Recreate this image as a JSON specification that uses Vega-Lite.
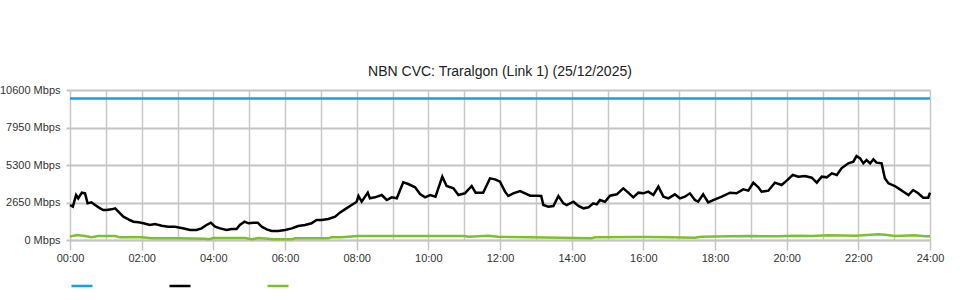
{
  "$schema": "https://vega.github.io/schema/vega-lite/v6.json",
  "width": 860,
  "height": 150,
  "autosize": {"type": "none"},
  "padding": {"left": 70, "top": 90, "right": 30, "bottom": 60},
  "background": "#ffffff",
  "title": {"text": "NBN CVC: Traralgon (Link 1) (25/12/2025)", "font": "Liberation Sans", "fontSize": 14, "fontWeight": "normal", "color": "#222222", "anchor": "middle", "frame": "group", "offset": 5},
  "config": {"view": {"stroke": null}},
  "datasets": {
    "cap": [
      {"t": 0, "s": "Capacity", "v": 10000},
      {"t": 24, "s": "Capacity", "v": 10000}
    ],
    "down": [
      {"t": 0.00, "s": "Download", "v": 2473}, {"t": 0.08, "s": "Download", "v": 2355}, {"t": 0.17, "s": "Download", "v": 3180}, {"t": 0.23, "s": "Download", "v": 2945},
      {"t": 0.33, "s": "Download", "v": 3345}, {"t": 0.42, "s": "Download", "v": 3298}, {"t": 0.49, "s": "Download", "v": 2590}, {"t": 0.60, "s": "Download", "v": 2660},
      {"t": 0.70, "s": "Download", "v": 2473}, {"t": 0.84, "s": "Download", "v": 2238}, {"t": 0.93, "s": "Download", "v": 2120}, {"t": 1.02, "s": "Download", "v": 2120},
      {"t": 1.16, "s": "Download", "v": 2167}, {"t": 1.26, "s": "Download", "v": 2238}, {"t": 1.35, "s": "Download", "v": 2002}, {"t": 1.49, "s": "Download", "v": 1650},
      {"t": 1.63, "s": "Download", "v": 1460}, {"t": 1.77, "s": "Download", "v": 1295}, {"t": 1.91, "s": "Download", "v": 1248}, {"t": 2.05, "s": "Download", "v": 1178},
      {"t": 2.23, "s": "Download", "v": 1060}, {"t": 2.37, "s": "Download", "v": 1130}, {"t": 2.56, "s": "Download", "v": 1013}, {"t": 2.74, "s": "Download", "v": 942},
      {"t": 2.93, "s": "Download", "v": 942}, {"t": 3.07, "s": "Download", "v": 870}, {"t": 3.21, "s": "Download", "v": 800}, {"t": 3.35, "s": "Download", "v": 706},
      {"t": 3.53, "s": "Download", "v": 706}, {"t": 3.67, "s": "Download", "v": 824}, {"t": 3.81, "s": "Download", "v": 1060}, {"t": 3.93, "s": "Download", "v": 1225},
      {"t": 4.05, "s": "Download", "v": 942}, {"t": 4.19, "s": "Download", "v": 824}, {"t": 4.37, "s": "Download", "v": 706}, {"t": 4.51, "s": "Download", "v": 777},
      {"t": 4.65, "s": "Download", "v": 777}, {"t": 4.74, "s": "Download", "v": 1060}, {"t": 4.87, "s": "Download", "v": 1295}, {"t": 4.98, "s": "Download", "v": 1178},
      {"t": 5.12, "s": "Download", "v": 1225}, {"t": 5.24, "s": "Download", "v": 1225}, {"t": 5.35, "s": "Download", "v": 942}, {"t": 5.49, "s": "Download", "v": 753},
      {"t": 5.63, "s": "Download", "v": 636}, {"t": 5.81, "s": "Download", "v": 636}, {"t": 6.00, "s": "Download", "v": 706}, {"t": 6.19, "s": "Download", "v": 824},
      {"t": 6.37, "s": "Download", "v": 989}, {"t": 6.56, "s": "Download", "v": 1060}, {"t": 6.74, "s": "Download", "v": 1178}, {"t": 6.88, "s": "Download", "v": 1413},
      {"t": 7.02, "s": "Download", "v": 1413}, {"t": 7.21, "s": "Download", "v": 1484}, {"t": 7.40, "s": "Download", "v": 1650}, {"t": 7.53, "s": "Download", "v": 1932},
      {"t": 7.67, "s": "Download", "v": 2167}, {"t": 7.86, "s": "Download", "v": 2473}, {"t": 8.00, "s": "Download", "v": 2708}, {"t": 8.05, "s": "Download", "v": 3110},
      {"t": 8.14, "s": "Download", "v": 2708}, {"t": 8.31, "s": "Download", "v": 3345}, {"t": 8.37, "s": "Download", "v": 2945}, {"t": 8.51, "s": "Download", "v": 3015},
      {"t": 8.70, "s": "Download", "v": 3180}, {"t": 8.84, "s": "Download", "v": 2827}, {"t": 8.98, "s": "Download", "v": 3015}, {"t": 9.12, "s": "Download", "v": 2945},
      {"t": 9.30, "s": "Download", "v": 4076}, {"t": 9.44, "s": "Download", "v": 3957}, {"t": 9.63, "s": "Download", "v": 3722}, {"t": 9.77, "s": "Download", "v": 3250},
      {"t": 9.91, "s": "Download", "v": 3015}, {"t": 10.05, "s": "Download", "v": 3180}, {"t": 10.20, "s": "Download", "v": 3062}, {"t": 10.39, "s": "Download", "v": 4475},
      {"t": 10.51, "s": "Download", "v": 3816}, {"t": 10.70, "s": "Download", "v": 3651}, {"t": 10.84, "s": "Download", "v": 3180}, {"t": 11.02, "s": "Download", "v": 3298},
      {"t": 11.21, "s": "Download", "v": 3816}, {"t": 11.32, "s": "Download", "v": 3345}, {"t": 11.53, "s": "Download", "v": 3345}, {"t": 11.72, "s": "Download", "v": 4358},
      {"t": 11.86, "s": "Download", "v": 4287}, {"t": 12.00, "s": "Download", "v": 4122}, {"t": 12.14, "s": "Download", "v": 3415}, {"t": 12.23, "s": "Download", "v": 3110},
      {"t": 12.37, "s": "Download", "v": 3298}, {"t": 12.56, "s": "Download", "v": 3463}, {"t": 12.70, "s": "Download", "v": 3298}, {"t": 12.84, "s": "Download", "v": 3133},
      {"t": 13.02, "s": "Download", "v": 3133}, {"t": 13.15, "s": "Download", "v": 3110}, {"t": 13.21, "s": "Download", "v": 2473}, {"t": 13.35, "s": "Download", "v": 2355},
      {"t": 13.49, "s": "Download", "v": 2402}, {"t": 13.63, "s": "Download", "v": 3110}, {"t": 13.77, "s": "Download", "v": 2590}, {"t": 13.86, "s": "Download", "v": 2473},
      {"t": 14.05, "s": "Download", "v": 2708}, {"t": 14.19, "s": "Download", "v": 2402}, {"t": 14.33, "s": "Download", "v": 2238}, {"t": 14.47, "s": "Download", "v": 2308},
      {"t": 14.60, "s": "Download", "v": 2590}, {"t": 14.70, "s": "Download", "v": 2520}, {"t": 14.79, "s": "Download", "v": 2827}, {"t": 14.93, "s": "Download", "v": 2708},
      {"t": 15.07, "s": "Download", "v": 3133}, {"t": 15.26, "s": "Download", "v": 3227}, {"t": 15.44, "s": "Download", "v": 3651}, {"t": 15.58, "s": "Download", "v": 3345},
      {"t": 15.72, "s": "Download", "v": 3015}, {"t": 15.86, "s": "Download", "v": 3345}, {"t": 16.00, "s": "Download", "v": 3298}, {"t": 16.14, "s": "Download", "v": 3415},
      {"t": 16.28, "s": "Download", "v": 3180}, {"t": 16.42, "s": "Download", "v": 3769}, {"t": 16.56, "s": "Download", "v": 3062}, {"t": 16.70, "s": "Download", "v": 2945},
      {"t": 16.88, "s": "Download", "v": 3227}, {"t": 17.02, "s": "Download", "v": 2945}, {"t": 17.16, "s": "Download", "v": 3062}, {"t": 17.30, "s": "Download", "v": 3298},
      {"t": 17.44, "s": "Download", "v": 2827}, {"t": 17.53, "s": "Download", "v": 2708}, {"t": 17.67, "s": "Download", "v": 3227}, {"t": 17.81, "s": "Download", "v": 2660},
      {"t": 18.00, "s": "Download", "v": 2874}, {"t": 18.19, "s": "Download", "v": 3062}, {"t": 18.42, "s": "Download", "v": 3345}, {"t": 18.60, "s": "Download", "v": 3298},
      {"t": 18.79, "s": "Download", "v": 3580}, {"t": 18.93, "s": "Download", "v": 3486}, {"t": 19.07, "s": "Download", "v": 4052}, {"t": 19.21, "s": "Download", "v": 3722},
      {"t": 19.30, "s": "Download", "v": 3415}, {"t": 19.49, "s": "Download", "v": 3486}, {"t": 19.67, "s": "Download", "v": 4052}, {"t": 19.86, "s": "Download", "v": 3887},
      {"t": 20.00, "s": "Download", "v": 4200}, {"t": 20.17, "s": "Download", "v": 4593}, {"t": 20.33, "s": "Download", "v": 4475}, {"t": 20.51, "s": "Download", "v": 4523},
      {"t": 20.70, "s": "Download", "v": 4405}, {"t": 20.84, "s": "Download", "v": 4052}, {"t": 20.98, "s": "Download", "v": 4475}, {"t": 21.12, "s": "Download", "v": 4428},
      {"t": 21.26, "s": "Download", "v": 4711}, {"t": 21.40, "s": "Download", "v": 4593}, {"t": 21.53, "s": "Download", "v": 5064}, {"t": 21.72, "s": "Download", "v": 5417},
      {"t": 21.86, "s": "Download", "v": 5535}, {"t": 21.95, "s": "Download", "v": 5935}, {"t": 22.05, "s": "Download", "v": 5770}, {"t": 22.14, "s": "Download", "v": 5417},
      {"t": 22.23, "s": "Download", "v": 5653}, {"t": 22.33, "s": "Download", "v": 5417}, {"t": 22.42, "s": "Download", "v": 5700}, {"t": 22.51, "s": "Download", "v": 5464},
      {"t": 22.65, "s": "Download", "v": 5417}, {"t": 22.74, "s": "Download", "v": 4358}, {"t": 22.84, "s": "Download", "v": 4005}, {"t": 23.02, "s": "Download", "v": 3816},
      {"t": 23.16, "s": "Download", "v": 3580}, {"t": 23.26, "s": "Download", "v": 3415}, {"t": 23.40, "s": "Download", "v": 3180}, {"t": 23.53, "s": "Download", "v": 3533},
      {"t": 23.67, "s": "Download", "v": 3298}, {"t": 23.81, "s": "Download", "v": 2992}, {"t": 23.95, "s": "Download", "v": 2992}, {"t": 24.00, "s": "Download", "v": 3345}
    ],
    "up": [
      {"t": 0.00, "s": "Upload", "v": 236}, {"t": 0.19, "s": "Upload", "v": 353}, {"t": 0.42, "s": "Upload", "v": 283}, {"t": 0.60, "s": "Upload", "v": 188},
      {"t": 0.79, "s": "Upload", "v": 283}, {"t": 1.26, "s": "Upload", "v": 283}, {"t": 1.40, "s": "Upload", "v": 188}, {"t": 2.00, "s": "Upload", "v": 188},
      {"t": 2.28, "s": "Upload", "v": 118}, {"t": 3.02, "s": "Upload", "v": 118}, {"t": 3.77, "s": "Upload", "v": 94}, {"t": 3.86, "s": "Upload", "v": 47},
      {"t": 4.00, "s": "Upload", "v": 141}, {"t": 4.88, "s": "Upload", "v": 141}, {"t": 5.07, "s": "Upload", "v": 47}, {"t": 5.26, "s": "Upload", "v": 141},
      {"t": 5.53, "s": "Upload", "v": 94}, {"t": 5.67, "s": "Upload", "v": 47}, {"t": 6.19, "s": "Upload", "v": 47}, {"t": 6.28, "s": "Upload", "v": 118},
      {"t": 7.21, "s": "Upload", "v": 118}, {"t": 7.30, "s": "Upload", "v": 188}, {"t": 7.58, "s": "Upload", "v": 188}, {"t": 8.05, "s": "Upload", "v": 283},
      {"t": 11.02, "s": "Upload", "v": 283}, {"t": 11.12, "s": "Upload", "v": 236}, {"t": 11.67, "s": "Upload", "v": 306}, {"t": 11.95, "s": "Upload", "v": 236},
      {"t": 12.79, "s": "Upload", "v": 188}, {"t": 14.56, "s": "Upload", "v": 118}, {"t": 14.65, "s": "Upload", "v": 188}, {"t": 16.05, "s": "Upload", "v": 212},
      {"t": 16.70, "s": "Upload", "v": 188}, {"t": 17.44, "s": "Upload", "v": 165}, {"t": 17.63, "s": "Upload", "v": 236}, {"t": 18.37, "s": "Upload", "v": 259},
      {"t": 18.93, "s": "Upload", "v": 283}, {"t": 19.77, "s": "Upload", "v": 259}, {"t": 20.23, "s": "Upload", "v": 306}, {"t": 20.70, "s": "Upload", "v": 283},
      {"t": 21.16, "s": "Upload", "v": 330}, {"t": 21.91, "s": "Upload", "v": 306}, {"t": 22.56, "s": "Upload", "v": 400}, {"t": 22.74, "s": "Upload", "v": 377},
      {"t": 23.02, "s": "Upload", "v": 283}, {"t": 23.58, "s": "Upload", "v": 330}, {"t": 23.86, "s": "Upload", "v": 259}, {"t": 24.00, "s": "Upload", "v": 259}
    ]
  },
  "layer": [
    {
      "data": {"name": "cap"},
      "mark": {"type": "line", "strokeWidth": 2.5},
      "encoding": {
        "x": {"field": "t", "type": "quantitative"},
        "y": {"field": "v", "type": "quantitative"},
        "color": {"field": "s", "type": "nominal"}
      }
    },
    {
      "data": {"name": "down"},
      "mark": {"type": "line", "strokeWidth": 2.5},
      "encoding": {
        "x": {"field": "t", "type": "quantitative"},
        "y": {"field": "v", "type": "quantitative"},
        "color": {"field": "s", "type": "nominal"}
      }
    },
    {
      "data": {"name": "up"},
      "mark": {"type": "line", "strokeWidth": 2.5},
      "encoding": {
        "x": {"field": "t", "type": "quantitative"},
        "y": {"field": "v", "type": "quantitative"},
        "color": {"field": "s", "type": "nominal"}
      }
    }
  ],
  "resolve": {"scale": {"x": "shared", "y": "shared", "color": "shared"}},
  "encoding": {
    "x": {
      "field": "t", "type": "quantitative",
      "scale": {"domain": [0, 24], "nice": false, "zero": false},
      "axis": {
        "title": null,
        "values": [0,1,2,3,4,5,6,7,8,9,10,11,12,13,14,15,16,17,18,19,20,21,22,23,24],
        "labelExpr": "datum.value % 2 == 0 ? ((datum.value < 10 ? '0' : '') + datum.value + ':00') : ''",
        "tickOpacity": {"expr": "datum.value % 2 == 0 ? 1 : 0"},
        "tickSize": 10, "tickColor": "#c4c4c4", "tickWidth": 1.5,
        "domainColor": "#c4c4c4", "domainWidth": 1.5,
        "gridColor": "#c8c8c8", "gridWidth": 1.5,
        "labelFont": "Liberation Sans", "labelFontSize": 11, "labelColor": "#333333", "labelPadding": 2,
        "labelFlush": false, "labelOverlap": false
      }
    },
    "y": {
      "field": "v", "type": "quantitative",
      "scale": {"domain": [0, 10600], "nice": false},
      "axis": {
        "title": null,
        "values": [0, 2650, 5300, 7950, 10600],
        "labelExpr": "datum.value + ' Mbps'",
        "domain": false,
        "tickSize": 4, "tickColor": "#c4c4c4", "tickWidth": 2,
        "gridColor": "#c4c4c4", "gridWidth": 2,
        "labelFont": "Liberation Sans", "labelFontSize": 11, "labelColor": "#333333", "labelPadding": 6,
        "labelFlush": false, "labelOverlap": false
      }
    },
    "color": {
      "field": "s", "type": "nominal",
      "scale": {"domain": ["Capacity", "Download", "Upload"], "range": ["#1a9fdd", "#000000", "#7cbf2f"]},
      "legend": {
        "title": null, "orient": "bottom", "direction": "horizontal",
        "symbolType": "stroke", "symbolSize": 441, "symbolStrokeWidth": 2.5,
        "labelExpr": "''", "labelOffset": 0, "columnPadding": 66, "offset": 11
      }
    }
  }
}
